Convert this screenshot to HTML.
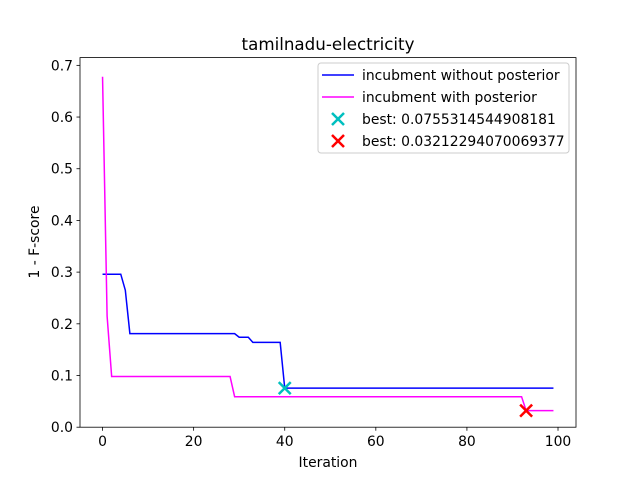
<!DOCTYPE html>
<html><head><meta charset="utf-8"><style>body{margin:0;background:#fff}svg{font-family:"DejaVu Sans","Liberation Sans",sans-serif}</style></head>
<body>
<svg id="chart" width="640" height="480" xmlns="http://www.w3.org/2000/svg">
<rect width="640" height="480" fill="#fff"/>
<text x="328" y="50" font-size="16.7" text-anchor="middle">tamilnadu-electricity</text>
<g id="plot"></g>
<rect x="80" y="57.6" width="496" height="369.6" fill="none" stroke="#000" stroke-width="0.8"/>
<text x="328" y="467" font-size="13.9" text-anchor="middle">Iteration</text>
<text transform="translate(39,242) rotate(-90)" font-size="13.9" text-anchor="middle">1 - F-score</text>
<g>
<rect x="318" y="63" width="251" height="90" fill="#fff" stroke="#ccc" rx="3"/>
<line x1="322" y1="75" x2="354" y2="75" stroke="blue" stroke-width="1.5"/>
<text x="362" y="80" font-size="13.9">incubment without posterior</text>
<line x1="322" y1="97" x2="354" y2="97" stroke="magenta" stroke-width="1.5"/>
<text x="362" y="102" font-size="13.9">incubment with posterior</text>
<path d="M332,113 L344,125 M344,113 L332,125" stroke="#00bfbf" stroke-width="2.5"/>
<text x="362" y="124" font-size="13.9">best: 0.0755314544908181</text>
<path d="M332,135 L344,147 M344,135 L332,147" stroke="red" stroke-width="2.5"/>
<text x="362" y="146" font-size="13.9">best: 0.03212294070069377</text>
</g>
</svg>
<script>
const xTicks=[0,20,40,60,80,100];
const yTicks=[0.0,0.1,0.2,0.3,0.4,0.5,0.6,0.7];
const blueSteps=[[0,0.296],[4,0.296],[5,0.265],[6,0.181],[29,0.181],[30,0.174],[32,0.174],[33,0.164],[39,0.164],[40,0.0755],[99,0.0755]];
const magentaSteps=[[0,0.678],[1,0.215],[2,0.098],[28,0.098],[29,0.059],[92,0.059],[93,0.032],[99,0.032]];
const bestPoints=[[40,0.0755,"#00bfbf"],[93,0.0321,"red"]];
const X=v=>80+(v+4.95)*(496/108.9);
const Y=v=>427.2-v*(369.6/0.715);
const NS="http://www.w3.org/2000/svg";
const g=document.getElementById('plot');
function el(t,a){const e=document.createElementNS(NS,t);for(const k in a)e.setAttribute(k,a[k]);g.appendChild(e);return e;}
xTicks.forEach(t=>{el('line',{x1:X(t),x2:X(t),y1:427.2,y2:430.7,stroke:'#000','stroke-width':0.8});
const tx=el('text',{x:X(t),y:446,'font-size':13.9,'text-anchor':'middle'});tx.textContent=t;

});
yTicks.forEach(t=>{el('line',{x1:76.5,x2:80,y1:Y(t),y2:Y(t),stroke:'#000','stroke-width':0.8});
const tx=el('text',{x:73,y:Y(t)+5,'font-size':13.9,'text-anchor':'end'});tx.textContent=t.toFixed(1);

});
function line(pts,c,n){const p=el('polyline',{points:pts.map(d=>X(d[0])+','+Y(d[1])).join(' '),fill:'none',stroke:c,'stroke-width':1.5});

}
line(blueSteps,'blue','line-without-posterior');
line(magentaSteps,'magenta','line-with-posterior');
bestPoints.forEach(b=>{const x=X(b[0]),y=Y(b[1]);
const m=el('path',{d:`M${x-6},${y-6}L${x+6},${y+6}M${x+6},${y-6}L${x-6},${y+6}`,stroke:b[2],'stroke-width':2.5});

});
</script>
</body></html>
